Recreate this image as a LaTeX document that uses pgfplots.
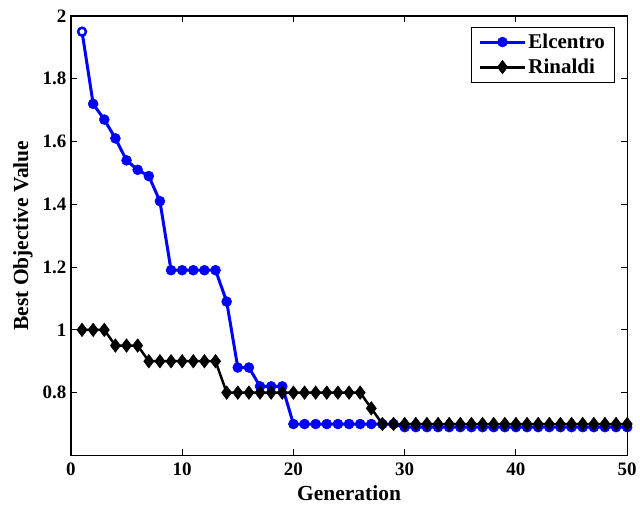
\documentclass[border=0pt]{standalone}
\usepackage{fontspec}
\setmainfont{Liberation Serif}
\usepackage{pgfplots}
\pgfplotsset{compat=1.18}
\begin{document}
\begin{tikzpicture}[x=1pt,y=1pt]
\begin{axis}[
  scale only axis,
  width=557pt, height=440pt,
  xmin=0, xmax=50, ymin=0.6, ymax=2,
  xtick={0,10,20,30,40,50},
  ytick={0.8,1,1.2,1.4,1.6,1.8,2},
  yticklabels={0.8,1,1.2,1.4,1.6,1.8,2},
  xticklabels={0,10,20,30,40,50},
  tick align=inside,
  tick pos=both,
  major tick length=6pt,
  axis line style={line width=1.3pt},
  every tick/.style={line width=1pt, black},
  tick label style={font=\fontsize{19}{19}\selectfont\bfseries},
  /pgf/number format/assume math mode=true,
  yticklabel style={xshift=-1pt},
  xticklabel style={yshift=-4pt},
  xlabel={Generation},
  ylabel={Best Objective Value},
  label style={font=\fontsize{21.5}{22}\selectfont\bfseries},
  xlabel style={at={(axis description cs:0.5,-0.086)}, anchor=center},
  ylabel style={at={(axis description cs:-0.086,0.5)}, anchor=center, rotate=0},
  legend style={at={(axis description cs:0.978,0.976)}, anchor=north east,
    font=\fontsize{21}{21}\selectfont\bfseries, draw=black, line width=1pt,
    inner xsep=7.5pt, inner ysep=5pt, row sep=5pt},
  legend cell align=left,
  legend image code/.code={
    \draw[#1, line width=3pt] (0pt,0pt) -- (45pt,0pt);
    \draw[#1, mark repeat=1, line width=0.5pt] plot coordinates {(22.5pt,0pt)};
  },
]
\addplot[color=blue, line width=3pt, mark=*, mark size=5pt,
  mark options={fill=blue, draw=blue, line width=0.5pt}]
coordinates {
(1,1.95) (2,1.72) (3,1.67) (4,1.61) (5,1.54) (6,1.51) (7,1.49) (8,1.41)
(9,1.19) (10,1.19) (11,1.19) (12,1.19) (13,1.19) (14,1.09) (15,0.88) (16,0.88)
(17,0.82) (18,0.82) (19,0.82) (20,0.70) (21,0.70) (22,0.70) (23,0.70) (24,0.70)
(25,0.70) (26,0.70) (27,0.70) (28,0.70) (29,0.70) (30,0.69) (31,0.69) (32,0.69)
(33,0.69) (34,0.69) (35,0.69) (36,0.69) (37,0.69) (38,0.69) (39,0.69) (40,0.69)
(41,0.69) (42,0.69) (43,0.69) (44,0.69) (45,0.69) (46,0.69) (47,0.69) (48,0.69)
(49,0.69) (50,0.69)
};
\addlegendentry{Elcentro}
\addplot[color=black, line width=2.5pt, mark=diamond*, mark size=6.8pt,
  mark options={fill=black, draw=black, line width=0.5pt}]
coordinates {
(1,1.00) (2,1.00) (3,1.00) (4,0.95) (5,0.95) (6,0.95) (7,0.90) (8,0.90)
(9,0.90) (10,0.90) (11,0.90) (12,0.90) (13,0.90) (14,0.80) (15,0.80) (16,0.80)
(17,0.80) (18,0.80) (19,0.80) (20,0.80) (21,0.80) (22,0.80) (23,0.80) (24,0.80)
(25,0.80) (26,0.80) (27,0.75) (28,0.70) (29,0.70) (30,0.70) (31,0.70) (32,0.70)
(33,0.70) (34,0.70) (35,0.70) (36,0.70) (37,0.70) (38,0.70) (39,0.70) (40,0.70)
(41,0.70) (42,0.70) (43,0.70) (44,0.70) (45,0.70) (46,0.70) (47,0.70) (48,0.70)
(49,0.70) (50,0.70)
};
\addlegendentry{Rinaldi}
\addplot[only marks, mark=*, mark size=2.2pt, draw=white, fill=white, forget plot]
coordinates {(1,1.95)};
\end{axis}
\path (current axis.south west) ++(-71pt,-51pt) coordinate (bbsw);
\path (current axis.north east) ++(12pt,16pt) coordinate (bbne);
\path[use as bounding box] (bbsw) rectangle (bbne);
\end{tikzpicture}
\end{document}
